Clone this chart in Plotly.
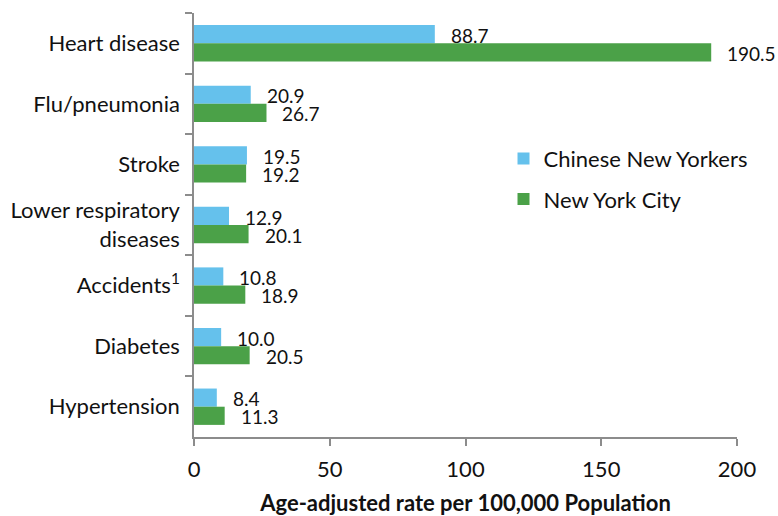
import plotly.graph_objects as go

# Leading causes of death, age-adjusted rate per 100,000
causes = [
    "Heart disease",
    "Flu/pneumonia",
    "Stroke",
    "Lower respiratory<br>diseases",
    "Accidents<sup>1</sup>",
    "Diabetes",
    "Hypertension",
]
chinese_ny = [88.7, 20.9, 19.5, 12.9, 10.8, 10.0, 8.4]
nyc = [190.5, 26.7, 19.2, 20.1, 18.9, 20.5, 11.3]
x_ticks = [0, 50, 100, 150, 200]

BLUE = "#65C1EC"
GREEN = "#4BA148"
AXIS = "#8C8C8C"
FONT = "Lato"
AX_SIZE = 22
VAL_SIZE = 19

fig = go.Figure()
fig.add_trace(go.Bar(y=causes, x=chinese_ny, orientation="h", name="Chinese New Yorkers",
                     legendgroup="cny", marker=dict(color=BLUE, line=dict(width=0))))
fig.add_trace(go.Bar(y=causes, x=nyc, orientation="h", name="New York City",
                     legendgroup="nyc", marker=dict(color=GREEN, line=dict(width=0))))

# value labels to the right of each bar
for cat, a, b in zip(causes, chinese_ny, nyc):
    fig.add_annotation(x=a, y=cat, text=f"{a:.1f}", showarrow=False, xanchor="left",
                       xshift=14, yshift=8, font=dict(family=FONT, size=VAL_SIZE, color="#111"))
    fig.add_annotation(x=b, y=cat, text=f"{b:.1f}", showarrow=False, xanchor="left",
                       xshift=14, yshift=-10, font=dict(family=FONT, size=VAL_SIZE, color="#111"))

fig.update_layout(
    width=778, height=516,
    margin=dict(l=194, r=41, t=13, b=79, autoexpand=False),
    paper_bgcolor="white", plot_bgcolor="white",
    barmode="group", bargap=0.4, bargroupgap=0,
    font=dict(family=FONT, size=AX_SIZE, color="#111"),
    legend=dict(x=0.57, y=0.608, xanchor="left", yanchor="middle",
                font=dict(family=FONT, size=AX_SIZE), itemwidth=30, tracegroupgap=9,
                bgcolor="rgba(0,0,0,0)"),
    xaxis=dict(range=[0, 200], tickvals=x_ticks, showgrid=False, zeroline=False,
               showline=True, linecolor=AXIS, linewidth=1.5, automargin=False,
               ticks="outside", ticklen=7, tickcolor=AXIS, tickwidth=1.5,
               ticklabelstandoff=5, tickfont=dict(size=AX_SIZE),
               title=dict(text="<b>Age-adjusted rate per 100,000 Population</b>",
                          font=dict(family=FONT, size=AX_SIZE), standoff=22)),
    yaxis=dict(autorange="reversed", showgrid=False, zeroline=False,
               showline=True, linecolor=AXIS, linewidth=1.5, automargin=False,
               ticks="outside", ticklen=7, tickcolor=AXIS, tickwidth=1.5,
               tickson="boundaries", ticklabelstandoff=8, tickfont=dict(size=AX_SIZE)),
)

fig.write_html("out.html")
